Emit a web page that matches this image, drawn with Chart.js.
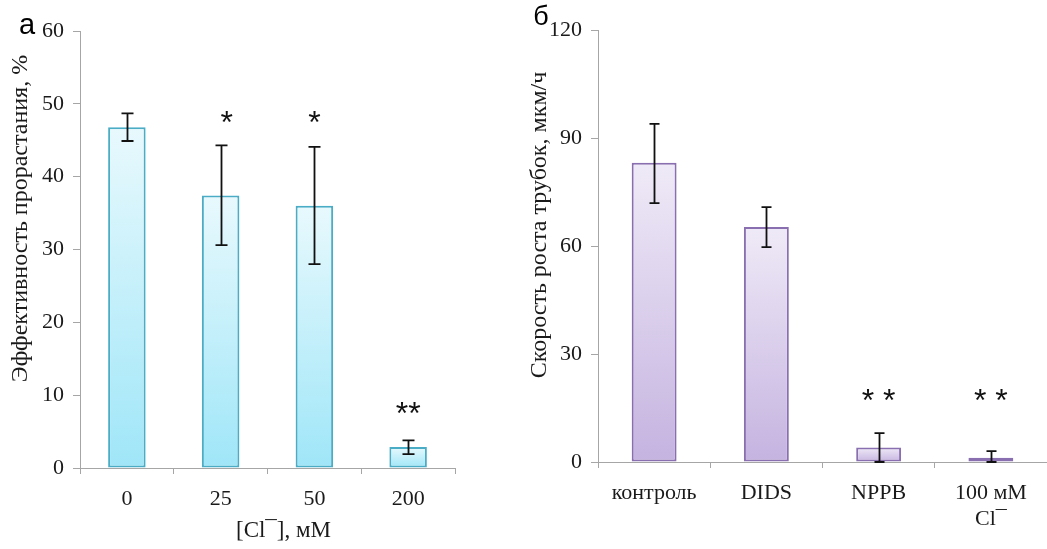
<!DOCTYPE html>
<html>
<head>
<meta charset="utf-8">
<script src="https://cdn.jsdelivr.net/npm/chart.js@4"></script>
<style>
  html, body { margin: 0; padding: 0; background: #fff; }
  #wrap { position: relative; width: 1047px; height: 549px; overflow: hidden; }
  .box { position: absolute; top: 0; height: 549px; }
  #boxA { left: 0; width: 520px; }
  #boxB { left: 520px; width: 527px; }
</style>
</head>
<body>
<div id="wrap">
  <div class="box" id="boxA"><canvas id="chartA"></canvas></div>
  <div class="box" id="boxB"><canvas id="chartB"></canvas></div>
</div>
<script>
// ---- Panel а: germination efficiency vs [Cl-] ----
const categoriesA = ['0', '25', '50', '200'];
const valuesA     = [46.8, 37.4, 36.0, 2.9];
const errLowA     = [44.9, 30.6, 28.0, 1.9];
const errHighA    = [48.7, 44.3, 44.1, 3.8];
const sigTextA    = ['', '*', '*', '**'];
const sigValueA   = [null, 48.5, 48.5, 8.6];
const ticksA      = { max: 60, step: 10 };

// ---- Panel б: tube growth rate ----
const categoriesB = ['контроль', 'DIDS', 'NPPB', ['100 мМ', 'Cl¯']];
const valuesB     = [83.1, 65.3, 4.0, 1.2];
const errLowB     = [71.9, 59.7, 0.0, 0.0];
const errHighB    = [93.9, 70.8, 8.0, 3.0];
const sigTextB    = ['', '', '* *', '* *'];
const sigValueB   = [null, null, 19.4, 19.4];
const ticksB      = { max: 120, step: 30 };

const SERIF = '"Liberation Serif", "Times New Roman", serif';
const SANS = '"Liberation Sans", Arial, sans-serif';
const AXIS_GRAY = '#a6a6a6';
const SIG_SIZE = 32;

function gradientFill(topColor, bottomColor) {
  return (ctx) => {
    const chart = ctx.chart;
    const y = chart.scales && chart.scales.y;
    if (ctx.type !== 'data' || !y) return topColor;
    const yTop = y.getPixelForValue(ctx.raw);
    const yBase = y.getPixelForValue(0);
    if (!isFinite(yTop) || !isFinite(yBase) || Math.abs(yBase - yTop) < 1) return topColor;
    const g = chart.ctx.createLinearGradient(0, yTop, 0, yBase);
    g.addColorStop(0, topColor);
    g.addColorStop(1, bottomColor);
    return g;
  };
}

function makeOverlayPlugin(cfg) {
  return {
    id: 'overlay',
    afterDatasetsDraw(chart) {
      const c = chart.ctx;
      const meta = chart.getDatasetMeta(0);
      const y = chart.scales.y;
      const area = chart.chartArea;
      c.save();
      // error bars
      c.strokeStyle = '#111';
      c.lineWidth = 1.8;
      meta.data.forEach((bar, i) => {
        const x = Math.round(bar.x) + 0.5;
        const yh = y.getPixelForValue(cfg.errHigh[i]);
        const yl = y.getPixelForValue(cfg.errLow[i]);
        c.beginPath();
        c.moveTo(x, yh); c.lineTo(x, yl);
        c.moveTo(x - cfg.cap, yh); c.lineTo(x + cfg.cap, yh);
        c.moveTo(x - cfg.cap, yl); c.lineTo(x + cfg.cap, yl);
        c.stroke();
      });
      // significance marks (asterisk glyph centre sits ~0.58em above baseline)
      c.fillStyle = '#111';
      c.font = SIG_SIZE + 'px ' + SANS;
      c.textAlign = 'center';
      c.textBaseline = 'alphabetic';
      meta.data.forEach((bar, i) => {
        if (!cfg.sigText[i]) return;
        c.fillText(cfg.sigText[i], bar.x + cfg.sigShift[i], y.getPixelForValue(cfg.sigValue[i]) + SIG_SIZE * 0.58);
      });
      // rotated y-axis title
      c.save();
      c.font = cfg.yTitleFont;
      c.fillStyle = '#1a1a1a';
      c.textAlign = 'center';
      c.textBaseline = 'middle';
      c.translate(cfg.yTitleX, (area.top + area.bottom) / 2 + cfg.yTitleDy);
      c.rotate(-Math.PI / 2);
      c.fillText(cfg.yTitle, 0, 0);
      c.restore();
      // panel letter
      c.font = cfg.letterFont;
      c.textAlign = 'center';
      c.textBaseline = 'middle';
      c.fillStyle = '#000';
      c.fillText(cfg.letter, cfg.letterX, cfg.letterY);
      // x title
      if (cfg.xTitle) {
        c.font = cfg.xTitleFont;
        c.fillStyle = '#1a1a1a';
        c.fillText(cfg.xTitle, (area.left + area.right) / 2 + cfg.xTitleDx, cfg.xTitleY);
      }
      c.restore();
    }
  };
}

function makeChart(canvasId, opts) {
  return new Chart(document.getElementById(canvasId), {
    type: 'bar',
    data: {
      labels: opts.labels,
      datasets: [{
        data: opts.values,
        backgroundColor: gradientFill(opts.topColor, opts.bottomColor),
        borderColor: opts.border,
        borderWidth: 2,
        borderSkipped: false,
        categoryPercentage: 1.0,
        barPercentage: 0.4
      }]
    },
    options: {
      responsive: true,
      maintainAspectRatio: false,
      animation: false,
      events: [],
      layout: { padding: opts.padding },
      plugins: { legend: { display: false }, tooltip: { enabled: false } },
      scales: {
        x: {
          offset: true,
          afterFit: (s) => { s.height = opts.xHeight; },
          grid: { offset: true, drawOnChartArea: false, drawTicks: true, tickLength: 6, color: AXIS_GRAY, lineWidth: 1 },
          border: { display: true, color: AXIS_GRAY, width: 1 },
          ticks: { color: '#1a1a1a', font: { family: SERIF, size: 22 }, padding: 12, maxRotation: 0, autoSkip: false }
        },
        y: {
          min: 0,
          max: opts.ticks.max,
          afterFit: (s) => { s.width = opts.yWidth; },
          grid: { drawOnChartArea: false, drawTicks: true, tickLength: 7, color: AXIS_GRAY, lineWidth: 1 },
          border: { display: true, color: AXIS_GRAY, width: 1 },
          ticks: { stepSize: opts.ticks.step, color: '#1a1a1a', font: { family: SERIF, size: 22 }, padding: 9 }
        }
      }
    },
    plugins: [makeOverlayPlugin(opts.overlay)]
  });
}

makeChart('chartA', {
  labels: categoriesA,
  values: valuesA,
  ticks: ticksA,
  topColor: '#e8f9fd',
  bottomColor: '#9fe6f8',
  border: '#4bacc6',
  padding: { top: 31, right: 65, left: 0, bottom: 0 },
  xHeight: 81,
  yWidth: 80,
  overlay: {
    errLow: errLowA, errHigh: errHighA, cap: 6,
    sigText: sigTextA, sigValue: sigValueA, sigShift: [0, 6, 0, 0],
    yTitle: 'Эффективность прорастания, %', yTitleX: 21, yTitleDy: -31,
    yTitleFont: '24px ' + SERIF,
    letter: 'а', letterX: 27, letterY: 26, letterFont: '29px ' + SANS,
    xTitle: '[Cl¯], мМ', xTitleDx: 16, xTitleY: 531, xTitleFont: '23px ' + SERIF
  }
});

makeChart('chartB', {
  labels: categoriesB,
  values: valuesB,
  ticks: ticksB,
  topColor: '#efeaf7',
  bottomColor: '#c5b3e0',
  border: '#8a6fb0',
  padding: { top: 30, right: 0, left: 0, bottom: 0 },
  xHeight: 87,
  yWidth: 78,
  overlay: {
    errLow: errLowB, errHigh: errHighB, cap: 5,
    sigText: sigTextB, sigValue: sigValueB, sigShift: [0, 0, 0, 0],
    yTitle: 'Скорость роста трубок, мкм/ч', yTitleX: 20, yTitleDy: -21,
    yTitleFont: '24px ' + SERIF,
    letter: 'б', letterX: 21, letterY: 18, letterFont: '27px ' + SANS,
    xTitle: null
  }
});
</script>
</body>
</html>
